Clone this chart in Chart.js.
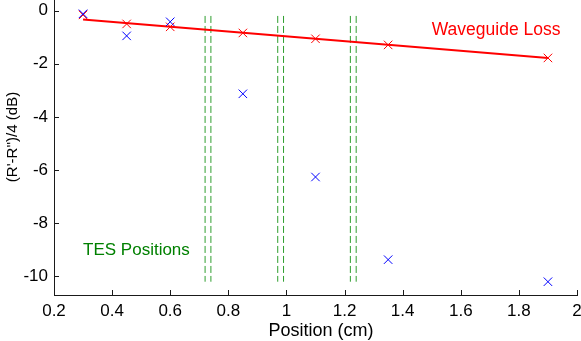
<!DOCTYPE html>
<html>
<head>
<meta charset="utf-8">
<script src="https://cdn.jsdelivr.net/npm/chart.js@4.4.1/dist/chart.umd.min.js"></script>
<style>
  html, body { margin: 0; padding: 0; background: #fff; }
  #wrap { width: 581px; height: 341px; }
</style>
</head>
<body>
<div id="wrap"><canvas id="c" width="581" height="341"></canvas></div>
<script>
// ---- data ----
const positions = [0.3, 0.45, 0.6, 0.85, 1.1, 1.35, 1.9];
const measured = [-0.12, -0.95, -0.42, -3.13, -6.26, -9.37, -10.2];
const waveguide = [-0.16, -0.5, -0.61, -0.84, -1.06, -1.29, -1.78];
const fitX = [0.3, 1.9];
const fitY = [-0.33, -1.78];
const tesPositions = [0.72, 0.74, 0.97, 0.99, 1.22, 1.24];
const tesLineRange = [-0.2, -10.2];
const xTicks = [0.2, 0.4, 0.6, 0.8, 1.0, 1.2, 1.4, 1.6, 1.8, 2.0];
const yTicks = [-10, -8, -6, -4, -2, 0];
const xLabel = 'Position (cm)';
const yLabel = "(R'-R'')/4 (dB)";
const labelWaveguide = 'Waveguide Loss';
const labelTES = 'TES Positions';

const FONT = "'Liberation Sans', Arial, Helvetica, sans-serif";
const AXIS_COLOR = '#1a1a1a';

const pts = (xs, ys) => xs.map((x, i) => ({x: x, y: ys[i]}));

const datasets = [];
datasets.push({
  label: 'measured', data: pts(positions, measured), showLine: false,
  pointStyle: 'crossRot', pointRadius: 6, pointHoverRadius: 6,
  borderColor: '#0000ff', backgroundColor: '#0000ff', pointBorderWidth: 1
});
datasets.push({
  label: 'waveguide', data: pts(positions, waveguide), showLine: false,
  pointStyle: 'crossRot', pointRadius: 6, pointHoverRadius: 6,
  borderColor: '#ff0000', backgroundColor: '#ff0000', pointBorderWidth: 1
});
datasets.push({
  label: 'fit', data: pts(fitX, fitY), showLine: true, pointRadius: 0,
  borderColor: '#ff0000', borderWidth: 2, fill: false
});
tesPositions.forEach((p, i) => {
  datasets.push({
    label: 'tes' + i, data: tesLineRange.map(y => ({x: p, y: y})), showLine: true,
    pointRadius: 0, borderColor: '#2e9e2e', borderWidth: 1, borderDash: [7, 3], fill: false
  });
});

const textPlugin = {
  id: 'texts',
  afterDatasetsDraw(chart) {
    const {ctx, scales: {x, y}} = chart;
    ctx.save();
    ctx.textBaseline = 'middle';
    ctx.textAlign = 'left';
    ctx.font = '17.5px ' + FONT;
    ctx.fillStyle = '#ff0000';
    ctx.fillText(labelWaveguide, x.getPixelForValue(1.5), y.getPixelForValue(-0.73));
    ctx.font = '17px ' + FONT;
    ctx.fillStyle = '#008000';
    ctx.fillText(labelTES, x.getPixelForValue(0.3), y.getPixelForValue(-9.0));
    ctx.restore();
  }
};

const axisPlugin = {
  id: 'axisDecor',
  afterDraw(chart) {
    const {ctx, scales: {x, y}, chartArea} = chart;
    ctx.save();
    // inward ticks
    ctx.strokeStyle = AXIS_COLOR;
    ctx.lineWidth = 1;
    ctx.beginPath();
    xTicks.forEach(v => {
      const px = Math.round(x.getPixelForValue(v)) + 0.5;
      ctx.moveTo(px, chartArea.bottom);
      ctx.lineTo(px, chartArea.bottom - 5);
    });
    yTicks.forEach(v => {
      const py = Math.round(y.getPixelForValue(v)) + 0.5;
      ctx.moveTo(chartArea.left, py);
      ctx.lineTo(chartArea.left + 5, py);
    });
    ctx.stroke();
    // axis titles
    ctx.fillStyle = '#000';
    ctx.textAlign = 'center';
    ctx.textBaseline = 'middle';
    ctx.font = '18px ' + FONT;
    ctx.fillText(xLabel, 321, 331);
    ctx.translate(13, 137);
    ctx.rotate(-Math.PI / 2);
    ctx.font = '15px ' + FONT;
    ctx.fillText(yLabel, 0, 0);
    ctx.restore();
  }
};

new Chart(document.getElementById('c'), {
  type: 'scatter',
  data: {datasets: datasets},
  options: {
    responsive: false,
    animation: false,
    events: [],
    layout: {autoPadding: false, padding: {left: 0, right: 4, top: 0, bottom: 0}},
    plugins: {legend: {display: false}, tooltip: {enabled: false}},
    scales: {
      x: {
        type: 'linear', min: 0.2, max: 2.0,
        afterBuildTicks: s => { s.ticks = xTicks.map(v => ({value: v})); },
        afterFit: s => { s.height = 46; s.paddingLeft = 0; s.paddingRight = 0; },
        grid: {display: true, drawOnChartArea: false, drawTicks: false},
        border: {display: true, color: AXIS_COLOR, width: 1},
        ticks: {
          color: '#000', font: {family: FONT, size: 17}, padding: 6, maxRotation: 0,
          callback: v => String(Number(v.toFixed(1)))
        },
        title: {display: false}
      },
      y: {
        type: 'linear', min: -10.7, max: 0.4,
        afterBuildTicks: s => { s.ticks = yTicks.map(v => ({value: v})); },
        afterFit: s => { s.width = 54; s.paddingTop = 0; s.paddingBottom = 0; },
        grid: {display: true, drawOnChartArea: false, drawTicks: false},
        border: {display: true, color: AXIS_COLOR, width: 1},
        ticks: {
          color: '#000', font: {family: FONT, size: 17}, padding: 6,
          callback: v => String(v)
        },
        title: {display: false}
      }
    }
  },
  plugins: [textPlugin, axisPlugin]
});
</script>
</body>
</html>
